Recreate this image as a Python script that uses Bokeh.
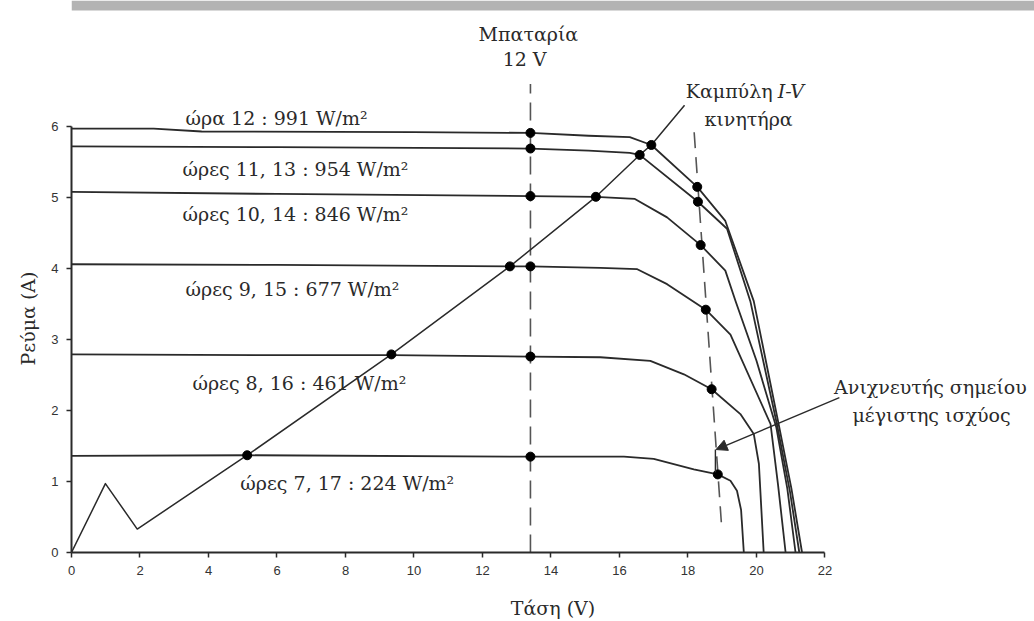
import numpy as np
from bokeh.plotting import figure
from bokeh.models import Range1d, FixedTicker, Title, Arrow, NormalHead, BoxAnnotation
from bokeh.core.properties import value
from bokeh.embed import file_html
from bokeh.resources import INLINE

# ---------------- data ----------------
hours = ["ώρα 12", "ώρες 11, 13", "ώρες 10, 14", "ώρες 9, 15", "ώρες 8, 16", "ώρες 7, 17"]
irradiance = [991, 954, 846, 677, 461, 224]

c1_v = [0, 2.4, 3.8, 10.0, 13.4, 15.1, 16.3, 16.93, 18.27, 19.09, 19.92, 20.65, 21.02, 21.33]
c1_i = [5.97, 5.97, 5.93, 5.92, 5.91, 5.87, 5.85, 5.74, 5.15, 4.67, 3.54, 1.8, 0.9, 0]
c2_v = [0, 6, 13.4, 15.1, 16.3, 16.59, 18.29, 19.14, 19.82, 20.6, 20.98, 21.25]
c2_i = [5.72, 5.71, 5.69, 5.66, 5.63, 5.60, 4.94, 4.56, 3.54, 1.8, 0.85, 0]
c3_v = [0, 6, 13.4, 15.31, 16.45, 17.39, 18.37, 19.09, 19.39, 20.0, 20.58, 20.9, 21.14]
c3_i = [5.08, 5.05, 5.02, 5.01, 4.98, 4.72, 4.33, 3.97, 3.54, 2.7, 1.76, 0.9, 0]
c4_v = [0, 6, 12.8, 13.4, 15.44, 16.52, 17.39, 18.52, 19.24, 20.41, 20.63, 20.85]
c4_i = [4.06, 4.05, 4.03, 4.03, 4.01, 3.99, 3.78, 3.42, 3.07, 1.81, 0.95, 0]
c5_v = [0, 6, 9.34, 13.4, 15.44, 16.9, 17.88, 18.69, 19.53, 19.92, 20.07, 20.21]
c5_i = [2.79, 2.78, 2.78, 2.76, 2.75, 2.70, 2.51, 2.30, 1.95, 1.67, 1.25, 0]
c6_v = [0, 5.13, 13.4, 16.13, 17.0, 18.17, 18.87, 19.24, 19.43, 19.55, 19.63]
c6_i = [1.36, 1.37, 1.35, 1.35, 1.32, 1.17, 1.10, 1.01, 0.87, 0.6, 0]
curves_v = [c1_v, c2_v, c3_v, c4_v, c5_v, c6_v]
curves_i = [c1_i, c2_i, c3_i, c4_i, c5_i, c6_i]

# motor I-V curve
motor_v = [0, 0.99, 1.92, 5.13, 9.34, 12.8, 15.31, 16.59, 16.93, 17.9]
motor_i = [0, 0.97, 0.33, 1.37, 2.79, 4.03, 5.01, 5.60, 5.74, 6.30]

# battery (12 V) operating line and points
battery_v = 13.4
battery_line_i = [0, 6.6]
battery_pts_i = [5.91, 5.69, 5.02, 4.03, 2.76, 1.35]

# motor operating points
motor_pts_v = [16.93, 16.59, 15.31, 12.8, 9.34, 5.13]
motor_pts_i = [5.74, 5.60, 5.01, 4.03, 2.79, 1.37]

# maximum power points and tracker line
mpp_v = [18.27, 18.29, 18.37, 18.52, 18.69, 18.87]
mpp_i = [5.15, 4.94, 4.33, 3.42, 2.30, 1.10]
mpp_line_v = [18.18, 18.99]
mpp_line_i = [5.92, 0.31]

x_ticks = [0, 2, 4, 6, 8, 10, 12, 14, 16, 18, 20, 22]
y_ticks = [0, 1, 2, 3, 4, 5, 6]

# ---------------- figure ----------------
INK = "#2a2a2a"
SERIF = "DejaVu Serif"
FS = "19px"

p = figure(width=1034, height=621, x_range=Range1d(0, 28.117), y_range=Range1d(0, 7.775),
           output_backend="svg", toolbar_location=None,
           min_border_left=71, min_border_right=0, min_border_top=0, min_border_bottom=69)
p.outline_line_color = None
p.grid.visible = False
p.background_fill_color = "white"
p.border_fill_color = "white"

# slide decoration at the top
p.add_layout(BoxAnnotation(bottom=7.634, fill_color="#b3b3b3", fill_alpha=1.0,
                           line_color=None, level="underlay"))

for ax, ticks, bnd in ((p.xaxis[0], x_ticks, (0, 22)), (p.yaxis[0], y_ticks, (0, 6))):
    ax.ticker = FixedTicker(ticks=ticks)
    ax.bounds = bnd
    ax.axis_line_width = 2
    ax.axis_line_color = INK
    ax.major_tick_line_color = INK
    ax.major_tick_line_width = 1.5
    ax.major_tick_out = 5
    ax.major_tick_in = 0
    ax.minor_tick_line_color = None
    ax.major_label_text_font = "Liberation Sans"
    ax.major_label_text_font_size = "13px"
    ax.major_label_text_color = "#333333"
p.xaxis.major_label_standoff = 8
p.yaxis.major_label_standoff = 8

p.xaxis.axis_label = "Τάση (V)"
p.xaxis.axis_label_text_font = SERIF
p.xaxis.axis_label_text_font_size = FS
p.xaxis.axis_label_text_font_style = "normal"
p.xaxis.axis_label_text_color = INK
p.xaxis.axis_label_standoff = 19

# y-axis title, placed slightly below the frame middle as in the picture
p.add_layout(Title(text="Ρεύμα (A)", align="left", offset=187, standoff=20,
                   text_font=SERIF, text_font_size=FS, text_font_style="normal",
                   text_color=INK), "left")

# dashed lines
p.line([battery_v, battery_v], battery_line_i, line_color="#555555", line_width=1.6,
       line_dash="18 9")
p.line(mpp_line_v, mpp_line_i, line_color="#555555", line_width=1.6, line_dash="16 9")

# panel I-V curves
for cv, ci in zip(curves_v, curves_i):
    p.line(cv, ci, line_color=INK, line_width=1.8, line_join="round")

# motor curve
p.line(motor_v, motor_i, line_color=INK, line_width=1.5, line_join="round")

# points
p.scatter([battery_v] * len(battery_pts_i), battery_pts_i, size=9, color="black")
p.scatter(motor_pts_v, motor_pts_i, size=9, color="black")
p.scatter(mpp_v, mpp_i, size=9, color="black")

# tracker arrow
p.add_layout(Arrow(end=NormalHead(size=11, fill_color=INK, line_color=INK),
                   x_start=22.42, y_start=2.18, x_end=18.82, y_end=1.45,
                   line_color=INK, line_width=1.4))
p.line([18.8, 18.8], [1.45, 1.13], line_color=INK, line_width=1.4)

# curve labels
label_x = [3.33, 3.24, 3.24, 3.33, 3.53, 4.93]
label_y = [6.12, 5.40, 4.77, 3.71, 2.39, 0.98]
label_text = [f"{h} : {w} W/m²" for h, w in zip(hours, irradiance)]
p.text(label_x, label_y, text=label_text, text_font=value(SERIF), text_font_size=FS,
       text_color=INK, text_align="left", text_baseline="alphabetic")

# annotations
p.text([13.34, 13.23], [7.31, 6.95], text=["Μπαταρία", "12 V"], text_font=value(SERIF),
       text_font_size=FS, text_color=INK, text_align="center", text_baseline="alphabetic")
p.text([20.47], [6.50], text=["Καμπύλη"], text_font=value(SERIF), text_font_size=FS,
       text_color=INK, text_align="right", text_baseline="alphabetic")
p.text([20.62], [6.50], text=["I-V"], text_font=value(SERIF), text_font_size=FS,
       text_font_style="italic", text_color=INK, text_align="left", text_baseline="alphabetic")
p.text([19.77], [6.11], text=["κινητήρα"], text_font=value(SERIF), text_font_size=FS,
       text_color=INK, text_align="center", text_baseline="alphabetic")
p.text([25.08, 25.11], [2.33, 1.94], text=["Ανιχνευτής σημείου", "μέγιστης ισχύος"],
       text_font=value(SERIF), text_font_size=FS, text_color=INK, text_align="center",
       text_baseline="alphabetic")

open("out.html", "w").write(file_html(p, INLINE))
